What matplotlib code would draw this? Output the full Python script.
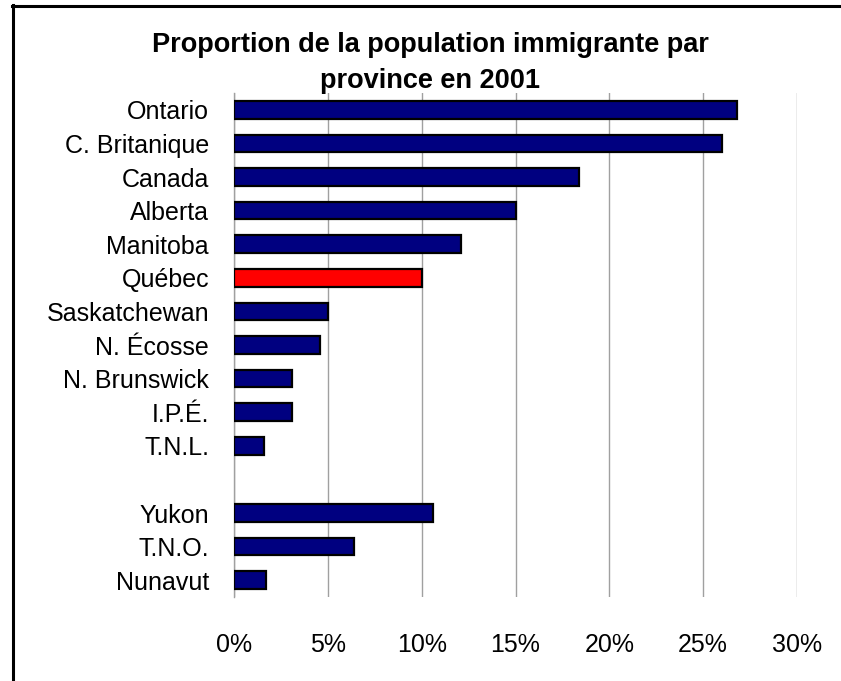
import matplotlib.pyplot as plt
from matplotlib.lines import Line2D

plt.rcParams['font.family'] = ['Liberation Sans', 'DejaVu Sans']

provinces = ["Ontario", "C. Britanique", "Canada", "Alberta", "Manitoba", "Québec",
             "Saskatchewan", "N. Écosse", "N. Brunswick", "I.P.É.", "T.N.L."]
province_pct = [26.8, 26.0, 18.4, 15.0, 12.1, 10.0, 5.0, 4.6, 3.1, 3.1, 1.6]
territories = ["Yukon", "T.N.O.", "Nunavut"]
territory_pct = [10.6, 6.4, 1.7]
highlight = "Québec"
xticks = [0, 5, 10, 15, 20, 25, 30]

W, H = 841, 681
fig = plt.figure(figsize=(W / 100, H / 100), dpi=100)
ax = fig.add_axes([234 / W, 1 - 597 / H, (797 - 234) / W, (597 - 93) / H])

# provinces first, then an empty slot, then territories
labels = provinces + territories
values = province_pct + territory_pct
ypos = list(range(len(provinces))) + [len(provinces) + 1 + i for i in range(len(territories))]
colors = ['#ff0000' if lab == highlight else '#000080' for lab in labels]

ax.barh(ypos, values, height=0.52, color=colors, edgecolor='black', linewidth=1.6, zorder=3)

ax.set_ylim(len(provinces) + len(territories) + 0.5, -0.5)
ax.set_xlim(0, 30)
ax.set_yticks(ypos)
ax.set_yticklabels(labels, fontsize=18)
ax.set_xticks(xticks)
ax.set_xticklabels([f"{t}%" for t in xticks], fontsize=18)
ax.tick_params(axis='y', length=0, pad=18)
ax.tick_params(axis='x', length=0, pad=26)

ax.grid(axis='x', color='#a0a0a0', linewidth=1.0, zorder=0)
for side in ['top', 'right', 'bottom']:
    ax.spines[side].set_visible(False)
ax.spines['left'].set_color('#a0a0a0')
ax.spines['left'].set_linewidth(1.0)

fig.text(430 / W, 1 - 63 / H, "Proportion de la population immigrante par\nprovince en 2001",
         ha='center', va='center', fontsize=19.5, fontweight='bold', linespacing=1.5)

# frame around the chart (top and left edges only visible)
fig.add_artist(Line2D([12 / W, 1], [1 - 5.5 / H, 1 - 5.5 / H], color='black', linewidth=2.2,
                      transform=fig.transFigure))
fig.add_artist(Line2D([12.5 / W, 12.5 / W], [0, 1 - 4.5 / H], color='black', linewidth=2.2,
                      transform=fig.transFigure))

fig.savefig("out.png", dpi=100)
